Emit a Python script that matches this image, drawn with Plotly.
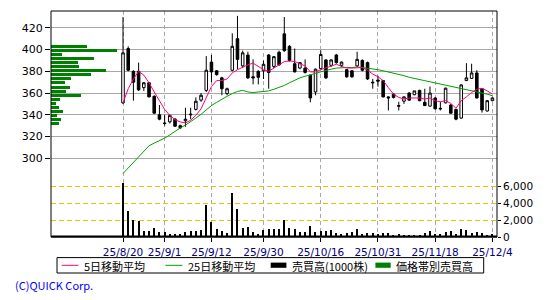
import plotly.graph_objects as go

dates = ["2025-08-20","2025-08-21","2025-08-22","2025-08-25","2025-08-26","2025-08-27","2025-08-28","2025-08-29",
         "2025-09-01","2025-09-02","2025-09-03","2025-09-04","2025-09-05","2025-09-08","2025-09-09","2025-09-10",
         "2025-09-11","2025-09-12","2025-09-16","2025-09-17","2025-09-18","2025-09-19","2025-09-22","2025-09-24",
         "2025-09-25","2025-09-26","2025-09-29","2025-09-30","2025-10-01","2025-10-02","2025-10-03","2025-10-06",
         "2025-10-07","2025-10-08","2025-10-09","2025-10-10","2025-10-14","2025-10-15","2025-10-16","2025-10-17",
         "2025-10-20","2025-10-21","2025-10-22","2025-10-23","2025-10-24","2025-10-27","2025-10-28","2025-10-29",
         "2025-10-30","2025-10-31","2025-11-04","2025-11-05","2025-11-06","2025-11-07","2025-11-10","2025-11-11",
         "2025-11-12","2025-11-13","2025-11-14","2025-11-17","2025-11-18","2025-11-19","2025-11-20","2025-11-21",
         "2025-11-25","2025-11-26","2025-11-27","2025-11-28","2025-12-01","2025-12-02","2025-12-03","2025-12-04"]

opens = [351, 401, 380, 380, 365, 369.5, 357, 340, 332.5, 333.5, 336, 330, 334.5, 340, 345, 353.5,
         362.5, 388.5, 380.5, 374, 359.5, 381, 410, 385, 395, 375, 380, 380.5, 395, 384.5, 397.5, 414.5,
         403, 387, 383, 383, 376.5, 361, 382.5, 390.5, 385.5, 395, 385.5, 381.5, 380.5, 385, 390, 388,
         370, 372, 371.5, 356.5, 359, 348.5, 352.5, 360, 358.5, 362.5, 351.5, 348, 355.5, 346, 351, 349,
         345, 337, 371.5, 373.5, 378.5, 364, 343.5, 353]
highs = [430, 403, 381, 388, 370, 370, 358, 349, 340, 340, 337, 331, 346.5, 346.5, 356, 360,
         394, 395, 381, 375, 365, 415, 431, 399, 398, 391, 381, 390, 396, 394, 399, 430,
         404, 401, 388.5, 391, 377, 382.5, 399.5, 391, 391, 396, 389, 382, 381, 398, 391, 389,
         373, 376, 372, 357, 360, 352, 357, 361, 362, 363, 364, 366, 356, 352, 365, 350,
         345.5, 368, 387.5, 387, 381, 364.5, 353.5, 356]
lows = [350, 380, 353, 362, 362, 356, 341, 335, 330, 332, 329, 327, 329, 336, 344, 352,
        361, 370, 376, 358, 358, 380, 382, 383, 373, 368, 368, 373, 364, 383, 385, 398,
        389, 379, 382, 378, 351.5, 358, 382, 373, 384, 387, 384, 374, 374, 384, 380, 372,
        364, 366, 356, 344, 355, 344, 350, 353, 358, 352.5, 348, 347.5, 345, 344, 350.5, 341,
        335, 336.5, 371, 373, 355, 342, 343, 352.5]
closes = [397, 381, 370, 363, 369.5, 356.5, 341.5, 336, 332, 339.5, 329.5, 328, 336, 340.5, 352.5, 358,
          381, 379.5, 377, 364, 364, 403, 391, 397, 374, 374, 374.5, 386.5, 379, 393.5, 386, 399,
          390, 379.5, 388, 379, 355.5, 382, 395.5, 374, 390.5, 388, 388.5, 375, 375, 391, 381, 373,
          369.5, 371, 356.5, 355.5, 356, 348, 356.5, 353.5, 362, 353, 348.5, 360, 345.5, 345.5, 364.5, 341.5,
          336, 367.5, 374, 378.5, 355.5, 344.5, 353, 355.5]

ma5 = [351, 364, 373, 380, 376.5, 369.5, 361, 352.5, 345, 339.5, 335.5, 333.5, 332.5, 335, 339.5, 345.5,
       356, 366, 371.5, 371.5, 373, 378.5, 381.5, 384, 386, 387.5, 384.5, 381.5, 380, 383, 386, 389,
       389.5, 389, 387, 385, 379.5, 379.5, 381.5, 383, 384.5, 386.5, 384.5, 383, 383, 383.5, 383.5, 381,
       377.5, 375, 371.5, 365, 359, 356, 354.5, 355.5, 355.5, 355.5, 354.5, 355.5, 353, 352, 353, 350.5,
       346, 353, 356.5, 360.5, 363.5, 364.5, 362, 359]
ma25 = [286, 291, 296.5, 302, 307, 311.5, 314, 316, 318.5, 321.5, 325, 328, 330.5, 333.5, 337, 340.5,
        344.5, 348.5, 351.5, 354.5, 357, 359.5, 361.5, 362.5, 361, 360.5, 361, 361.5, 362, 363.5, 365, 367,
        369.5, 372, 374, 375.5, 376.5, 378, 379.5, 381, 382, 383, 383.5, 383.5, 383.5, 384, 383.5, 383,
        382, 381.5, 380.5, 379.5, 378.5, 377.5, 376, 374.5, 373.5, 372.5, 371.5, 370.5, 369.5, 368.5, 367.5, 366.5,
        365, 364, 363, 362, 361, 360, 359, 357.5]

volume = [6400, 3020, 1960, 1840, 700, 700, 1060, 550, 550, 350, 310, 350, 590, 700, 700, 820,
          3720, 1760, 900, 700, 470, 5180, 3250, 1060, 1180, 590, 350, 820, 940, 940, 940, 2000,
          1060, 940, 590, 590, 1290, 590, 700, 700, 820, 470, 350, 470, 590, 940, 350, 470,
          470, 350, 470, 470, 240, 350, 240, 240, 240, 240, 470, 700, 350, 350, 590, 700,
          350, 940, 820, 470, 590, 470, 240, 350]

vbp_price = [402.6, 399.1, 395.4, 391.7, 388.0, 384.4, 380.7, 377.0, 373.3, 369.6,
             365.0, 361.4, 357.7, 354.0, 350.3, 346.6, 343.0, 339.3, 335.6, 331.9]
vbp_volume = [3600, 6550, 1100, 4270, 2650, 2770, 5470, 3950, 1950, 1370,
              1870, 1450, 2970, 870, 470, 770, 1150, 570, 970, 750]

tick_dates = ["2025-08-20", "2025-09-01", "2025-09-12", "2025-09-30",
              "2025-10-16", "2025-10-31", "2025-11-18", "2025-12-04"]
tick_labels = ["25/8/20", "25/9/1", "25/9/12", "25/9/30",
               "25/10/16", "25/10/31", "25/11/18", "25/12/4"]
price_ticks = [300, 320, 340, 360, 380, 400, 420]
vol_ticks = [0, 2000, 4000, 6000]
vol_labels = ["0", "2,000", "4,000", "6,000"]

W, H = 550, 300
L, R, T, B = 51.3, 497.3, 10.7, 236.7
PINK = "#ff0080"
GREEN_LINE = "#00a000"
GREEN_BAR = "#008000"
FONT = "Noto Sans CJK JP"
NUMFONT = "DejaVu Sans"


def px(x):
    return (x - L) / (R - L)


def py(y):
    return (B - y) / (B - T)


fig = go.Figure()

fig.add_trace(go.Bar(
    x=vbp_volume, y=vbp_price, orientation="h", xaxis="x2", yaxis="y",
    marker=dict(color=GREEN_BAR, line=dict(width=0)), width=2.5, showlegend=False,
    hoverinfo="skip"))

fig.add_trace(go.Bar(
    x=dates, y=volume, xaxis="x", yaxis="y2", width=0.22,
    marker=dict(color="black", line=dict(width=0)), showlegend=False))

fig.add_trace(go.Candlestick(
    x=dates, open=opens, high=highs, low=lows, close=closes, xaxis="x", yaxis="y",
    increasing=dict(line=dict(color="black", width=1), fillcolor="white"),
    decreasing=dict(line=dict(color="black", width=1), fillcolor="black"),
    whiskerwidth=0, showlegend=False))

fig.add_trace(go.Scatter(x=dates, y=ma25, mode="lines", xaxis="x", yaxis="y",
                         line=dict(color=GREEN_LINE, width=1), showlegend=False))
fig.add_trace(go.Scatter(x=dates, y=ma5, mode="lines", xaxis="x", yaxis="y",
                         line=dict(color=PINK, width=1), showlegend=False))

fig.update_layout(
    width=W, height=H,
    margin=dict(l=L, r=W - R, t=T, b=H - B, pad=0),
    paper_bgcolor="white", plot_bgcolor="white",
    font=dict(family=FONT, size=11, color="black"),
    bargap=0,
    xaxis=dict(
        type="category", range=[-13.84, 71.88], tickmode="array",
        tickvals=tick_dates, ticktext=tick_labels,
        showgrid=True, gridcolor="#a8a8a8", griddash="4px,3px", gridwidth=1,
        ticks="outside", ticklen=4, tickcolor="black", ticklabelstandoff=1,
        tickfont=dict(family=NUMFONT, size=10.5, color="#000080"),
        showline=False, zeroline=False, rangeslider=dict(visible=False),
        fixedrange=True),
    xaxis2=dict(overlaying="x", range=[0, 44600], visible=False, fixedrange=True),
    yaxis=dict(
        range=[227.6, 435.5], tickmode="array", tickvals=price_ticks,
        showgrid=True, gridcolor="#a8a8a8", gridwidth=1,
        ticks="outside", ticklen=5, tickcolor="black",
        tickfont=dict(family=NUMFONT, size=11, color="black"),
        zeroline=False, showline=False, fixedrange=True),
    yaxis2=dict(
        overlaying="y", side="right", range=[0, 26590], tickmode="array",
        tickvals=vol_ticks, ticktext=vol_labels,
        showgrid=True, gridcolor="#f0c000", griddash="5px,3px", gridwidth=1,
        ticks="outside", ticklen=3, tickcolor="black",
        tickfont=dict(family=NUMFONT, size=10.5, color="black"),
        zeroline=False, showline=False, fixedrange=True),
)

shapes = [
    dict(type="rect", xref="paper", yref="paper", x0=0, x1=1, y0=0, y1=1,
         line=dict(color="black", width=1), layer="above"),
    dict(type="line", xref="paper", yref="paper", x0=0, x1=1, y0=py(236.2), y1=py(236.2),
         line=dict(color="black", width=2), layer="above"),
    # legend frame
    dict(type="rect", xref="paper", yref="paper", x0=px(57.3), x1=px(484), y0=py(257.3), y1=py(272.7),
         line=dict(color="black", width=1)),
    dict(type="line", xref="paper", yref="paper", x0=px(62), x1=px(78.7), y0=py(265), y1=py(265),
         line=dict(color=PINK, width=1)),
    dict(type="line", xref="paper", yref="paper", x0=px(165.7), x1=px(182.7), y0=py(265), y1=py(265),
         line=dict(color=GREEN_LINE, width=1)),
    dict(type="rect", xref="paper", yref="paper", x0=px(271), x1=px(286.7), y0=py(262.3), y1=py(267.5),
         line=dict(width=0), fillcolor="black"),
    dict(type="rect", xref="paper", yref="paper", x0=px(375.7), x1=px(391), y0=py(262.3), y1=py(267.5),
         line=dict(width=0), fillcolor=GREEN_BAR),
]

annotations = []
for x0, txt in [(82, "5日移動平均"), (186, "25日移動平均"), (290, "売買高(1000株)"), (394.5, "価格帯別売買高")]:
    annotations.append(dict(xref="paper", yref="paper", x=px(x0), y=py(265.3), text=txt,
                            showarrow=False, xanchor="left", yanchor="middle",
                            font=dict(family=FONT, size=11, color="black")))
annotations.append(dict(xref="paper", yref="paper", x=px(13), y=py(285), text="(C)QUICK Corp.",
                        showarrow=False, xanchor="left", yanchor="middle",
                        font=dict(family=FONT, size=11, color="#0000ff")))

fig.update_layout(shapes=shapes, annotations=annotations)

fig.write_html("out.html")
